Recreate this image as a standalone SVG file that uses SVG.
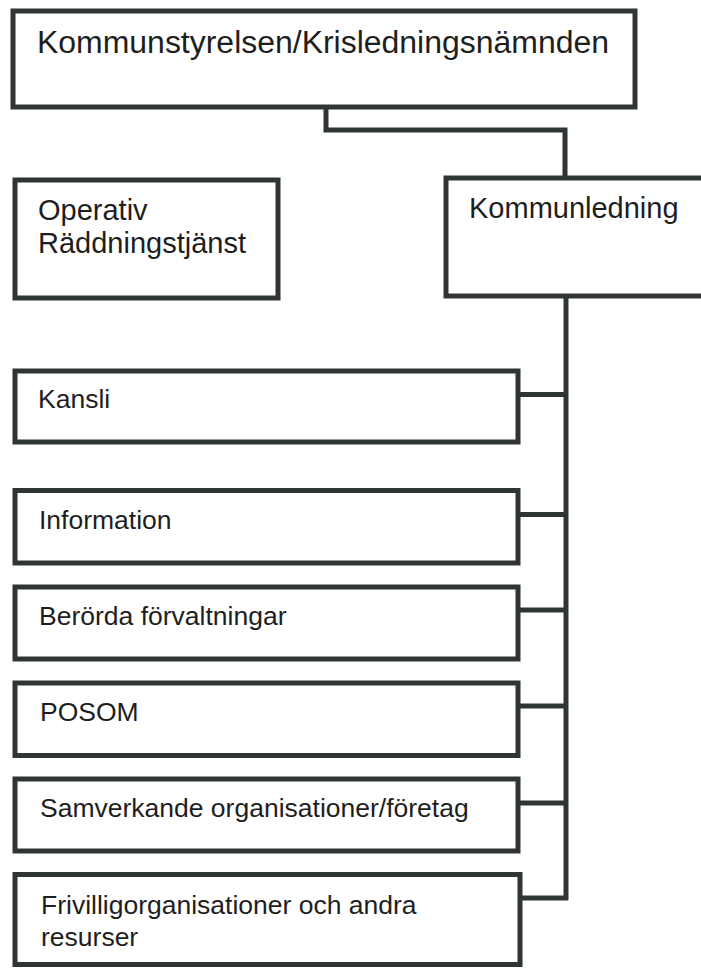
<svg xmlns="http://www.w3.org/2000/svg" width="701" height="968" viewBox="0 0 701 968">
<style>
.box{fill:#fff;stroke:#2f3532;stroke-width:5}
.con{fill:none;stroke:#2f3532;stroke-width:5;stroke-linejoin:miter}
text{font-family:"Liberation Sans",Arial,sans-serif;fill:#1e1e1e}
.t1{font-size:31px}
.t2{font-size:29px}
.t3{font-size:26.5px}
</style>
<rect width="701" height="968" fill="#fff"/>
<g id="connectors">
<path class="con" d="M326,107 V130 H565 V178"/>
<path class="con" d="M566,296 V900"/>
<path class="con" d="M518,394.5 H566"/>
<path class="con" d="M518,514.5 H566"/>
<path class="con" d="M518,610 H566"/>
<path class="con" d="M518,706 H566"/>
<path class="con" d="M518,803 H566"/>
<path class="con" d="M518,898 H568"/>
</g>
<g id="n-ks"><rect class="box" x="13" y="11" width="622" height="96"/><text class="t1" x="37" y="53" textLength="572" lengthAdjust="spacingAndGlyphs">Kommunstyrelsen/Krisledningsnämnden</text></g>
<g id="n-ops"><rect class="box" x="15" y="180" width="263" height="118"/><text class="t2" x="38" y="220">Operativ</text><text class="t2" x="38" y="253">Räddningstjänst</text></g>
<g id="n-kl"><rect class="box" x="446" y="178" width="264" height="118"/><text class="t2" x="469" y="218">Kommunledning</text></g>
<g id="n-kansli"><rect class="box" x="15" y="371" width="503" height="71"/><text class="t3" x="38" y="408">Kansli</text></g>
<g id="n-info"><rect class="box" x="15" y="490.5" width="503" height="72.5"/><text class="t3" x="39" y="529">Information</text></g>
<g id="n-forv"><rect class="box" x="15" y="587" width="503" height="72"/><text class="t3" x="39" y="625">Berörda förvaltningar</text></g>
<g id="n-posom"><rect class="box" x="15" y="683" width="503" height="72.5"/><text class="t3" x="40" y="721">POSOM</text></g>
<g id="n-samv"><rect class="box" x="15" y="779" width="503" height="72"/><text class="t3" x="40" y="817">Samverkande organisationer/företag</text></g>
<g id="n-friv"><rect class="box" x="15" y="874.5" width="505" height="90"/><text class="t3" x="41" y="914">Frivilligorganisationer och andra</text><text class="t3" x="41" y="946">resurser</text></g>
</svg>
